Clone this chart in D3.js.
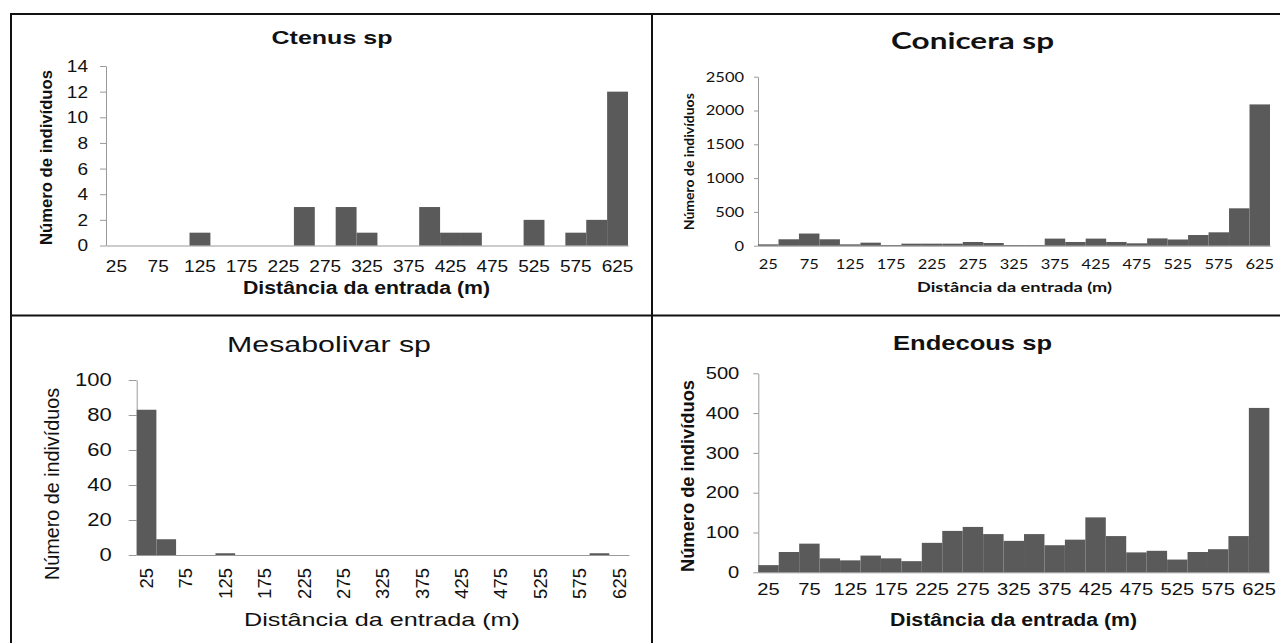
<!DOCTYPE html>
<html>
<head>
<meta charset="utf-8">
<script src="https://cdn.jsdelivr.net/npm/d3@7"></script>
<style>
  body { margin: 0; background: #fff; }
  svg { display: block; }
</style>
</head>
<body>
<svg id="chart" width="1280" height="643"></svg>
<script>
// distance classes (m), one bar each
const distances = ['25', '50', '75', '100', '125', '150', '175', '200', '225', '250', '275', '300', '325',
  '350', '375', '400', '425', '450', '475', '500', '525', '550', '575', '600', '625']
// only every other class gets a label
const distanceTicks = ['25', '75', '125', '175', '225', '275', '325', '375', '425', '475', '525', '575', '625']

// number of individuals per distance class
const ctenus = [0, 0, 0, 0, 1, 0, 0, 0, 0, 3, 0, 3, 1, 0, 0, 3, 1, 1, 0, 0, 2, 0, 1, 2, 12]
const conicera = [20, 95, 180, 95, 20, 45, 10, 30, 30, 30, 55, 40, 10, 10, 105, 55, 105, 55, 35, 108, 92, 158, 198, 553, 2090]
const mesabolivar = [83, 9, 0, 0, 1, 0, 0, 0, 0, 0, 0, 0, 0, 0, 0, 0, 0, 0, 0, 0, 0, 0, 0, 1, 0]
const endecous = [18, 51, 72, 35, 30, 42, 35, 28, 74, 104, 114, 96, 79, 96, 68, 82, 138, 91, 50, 54, 32, 51, 58, 91, 413]

// y tick values
const ctenusTicks = [0, 2, 4, 6, 8, 10, 12, 14]
const coniceraTicks = [0, 500, 1000, 1500, 2000, 2500]
const mesabolivarTicks = [0, 20, 40, 60, 80, 100]
const endecousTicks = [0, 100, 200, 300, 400, 500]

const svg = d3.select('#chart')
const arial = '"Liberation Sans", Arial, sans-serif'
const calibri = 'Lato, "Open Sans", sans-serif'

// the scanned figure is a bit wider than its fonts, so text gets stretched
function stretch (sel, k) {
  sel.each(function () {
    const w = this.getComputedTextLength()
    d3.select(this).attr('textLength', w * k).attr('lengthAdjust', 'spacingAndGlyphs')
  })
}

function fitText (sel, w) {
  sel.attr('textLength', w).attr('lengthAdjust', 'spacingAndGlyphs')
}

function drawPanel (o) {
  const x = d3.scaleBand().domain(distances).range([o.left, o.right]).padding(0)
  const y = d3.scaleLinear().domain([0, o.ticks[o.ticks.length - 1]]).range([o.base, o.top])

  const g = svg.append('g').attr('font-family', o.font)

  // y axis
  const ya = g.append('g')
    .attr('transform', `translate(${o.left},0)`)
    .call(d3.axisLeft(y)
      .tickValues(o.ticks)
      .tickFormat(d3.format('d'))
      .tickSize(o.tickLen)
      .tickSizeOuter(0)
      .tickPadding(o.yPad))
  ya.attr('font-family', null).attr('font-size', null)
  ya.selectAll('path, line').attr('stroke', '#9a9a9a')
  ya.selectAll('text').attr('font-size', o.tickFont).attr('fill', '#111').call(stretch, o.k)

  // x axis, no tick marks
  const xa = g.append('g')
    .attr('transform', `translate(0,${o.base})`)
    .call(d3.axisBottom(x).tickValues(distanceTicks).tickSize(0).tickSizeOuter(0).tickPadding(o.xPad))
  xa.attr('font-family', null).attr('font-size', null)
  xa.select('.domain').attr('stroke', '#9a9a9a')
  const xt = xa.selectAll('text').attr('font-size', o.tickFont).attr('fill', '#111')
  if (o.rotate) {
    xt.attr('transform', 'rotate(-90)')
      .attr('text-anchor', 'end')
      .attr('x', -o.xPad)
      .attr('y', 0)
      .attr('dy', '0.35em')
  } else {
    xt.call(stretch, o.k)
  }

  // bars
  g.selectAll('.bar')
    .data(o.values)
    .enter()
    .append('rect')
    .attr('class', 'bar')
    .attr('x', (d, i) => x(distances[i]))
    .attr('y', d => y(d))
    .attr('width', x.bandwidth())
    .attr('height', d => o.base - y(d))
    .attr('fill', '#5a5a5a')

  // chart title
  g.append('text')
    .attr('x', o.title[1])
    .attr('y', o.title[2])
    .attr('text-anchor', 'middle')
    .attr('font-size', o.title[3])
    .attr('font-weight', o.titleBold ? 'bold' : 'normal')
    .attr('fill', '#111')
    .text(o.title[0])
    .call(fitText, o.title[4])

  // y title
  g.append('text')
    .attr('transform', `translate(${o.yTitle[0]},${o.yTitle[1]}) rotate(-90)`)
    .attr('text-anchor', 'middle')
    .attr('font-size', o.yTitle[2])
    .attr('font-weight', o.bold ? 'bold' : 'normal')
    .attr('fill', '#111')
    .text('Número de indivíduos')
    .call(fitText, o.yTitle[3])

  // x title
  g.append('text')
    .attr('x', o.xTitle[0])
    .attr('y', o.xTitle[1])
    .attr('text-anchor', 'middle')
    .attr('font-size', o.xTitle[2])
    .attr('font-weight', o.bold ? 'bold' : 'normal')
    .attr('fill', '#111')
    .text('Distância da entrada (m)')
    .call(fitText, o.xTitle[3])
}

drawPanel({
  values: ctenus, ticks: ctenusTicks, font: arial, bold: true, titleBold: true,
  left: 106, right: 628, top: 66, base: 245.5,
  tickLen: 6, yPad: 12, xPad: 14, tickFont: 17, k: 1.12,
  title: ['Ctenus sp', 332, 44, 18.5, 121],
  yTitle: [52, 157.5, 17, 175],
  xTitle: [366.5, 294, 17.5, 247]
})

drawPanel({
  values: conicera, ticks: coniceraTicks, font: calibri, bold: true, titleBold: true,
  left: 758, right: 1270, top: 76.7, base: 245.7,
  tickLen: 4, yPad: 10, xPad: 14, tickFont: 13.5, k: 1.22,
  title: ['Conicera sp', 972.6, 49, 22, 163],
  yTitle: [694, 161.7, 13.5, 137],
  xTitle: [1014.5, 292, 14, 195]
})

drawPanel({
  values: mesabolivar, ticks: mesabolivarTicks, font: arial, bold: false, titleBold: false,
  left: 136.7, right: 629, top: 380, base: 555,
  tickLen: 8, yPad: 17, xPad: 13, tickFont: 18.5, k: 1.19, rotate: true,
  title: ['Mesabolivar sp', 329, 352, 21.5, 204],
  yTitle: [59, 484, 19.5, 192],
  xTitle: [382, 626, 19, 276]
})

drawPanel({
  values: endecous, ticks: endecousTicks, font: arial, bold: true, titleBold: true,
  left: 758.3, right: 1269.3, top: 373.3, base: 572.3,
  tickLen: 5, yPad: 14, xPad: 11, tickFont: 16.5, k: 1.22,
  title: ['Endecous sp', 972.5, 350, 21, 159],
  yTitle: [694, 476, 18.3, 192],
  xTitle: [1013.6, 626, 18, 247]
})

// panel frames
const frame = [
  [10, 14, 1280, 14],
  [11, 14, 11, 643],
  [652, 14, 652, 643],
  [10, 315.5, 1280, 315.5]
]
svg.selectAll('.frame')
  .data(frame)
  .enter()
  .append('line')
  .attr('class', 'frame')
  .attr('x1', d => d[0])
  .attr('y1', d => d[1])
  .attr('x2', d => d[2])
  .attr('y2', d => d[3])
  .attr('stroke', '#111')
  .attr('stroke-width', 2)
</script>
</body>
</html>
